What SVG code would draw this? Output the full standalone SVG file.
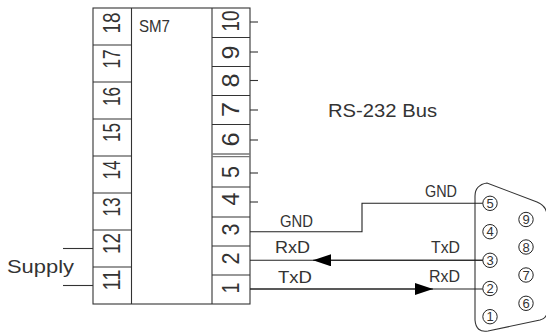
<svg xmlns="http://www.w3.org/2000/svg" width="546" height="333" viewBox="0 0 546 333">
<style>
.ln{stroke:#333;stroke-width:1.1;fill:none}
.wire{stroke:#222;stroke-width:1.1;fill:none}
.pin{font-family:"Liberation Sans",Arial,sans-serif;font-size:23px;fill:#333;text-anchor:middle}
.lbl{font-family:"Liberation Sans",Arial,sans-serif;font-size:17px;fill:#333}
.big{font-family:"Liberation Sans",Arial,sans-serif;font-size:18.5px;fill:#333}
.cn{font-family:"Liberation Sans",Arial,sans-serif;font-size:13px;fill:#333;text-anchor:middle}
.circ{stroke:#222;stroke-width:1;fill:#fff}
</style>
<defs>
<marker id="ah" viewBox="0 0 18 12" refX="18" refY="6" markerWidth="18" markerHeight="12" markerUnits="userSpaceOnUse" orient="auto">
<path d="M0,0 L18,6 L0,12 Z" fill="#000"/>
</marker>
</defs>
<rect width="546" height="333" fill="#fff"/>

<g id="sm7">
<rect x="93" y="8" width="157" height="296" class="ln"/>
<line x1="131.5" y1="8" x2="131.5" y2="304" class="ln"/>
<line x1="212" y1="8" x2="212" y2="304" class="ln"/>
<g class="ln">
<line x1="93" y1="45" x2="131.5" y2="45"/>
<line x1="93" y1="82" x2="131.5" y2="82"/>
<line x1="93" y1="119" x2="131.5" y2="119"/>
<line x1="93" y1="156" x2="131.5" y2="156"/>
<line x1="93" y1="193" x2="131.5" y2="193"/>
<line x1="93" y1="230" x2="131.5" y2="230"/>
<line x1="93" y1="267" x2="131.5" y2="267"/>
<line x1="212" y1="37.5" x2="250" y2="37.5"/>
<line x1="212" y1="66.5" x2="250" y2="66.5"/>
<line x1="212" y1="95.5" x2="250" y2="95.5"/>
<line x1="212" y1="124.5" x2="250" y2="124.5"/>
<line x1="212" y1="187" x2="250" y2="187"/>
<line x1="212" y1="217" x2="250" y2="217"/>
<line x1="212" y1="246" x2="250" y2="246"/>
<line x1="212" y1="275" x2="250" y2="275"/>
<line x1="250" y1="22" x2="258" y2="22"/>
<line x1="250" y1="52" x2="258" y2="52"/>
<line x1="250" y1="80.5" x2="258" y2="80.5"/>
<line x1="250" y1="110" x2="258" y2="110"/>
<line x1="250" y1="140" x2="258" y2="140"/>
<line x1="250" y1="173" x2="258" y2="173"/>
<line x1="250" y1="202" x2="258" y2="202"/>
<line x1="63" y1="248.5" x2="93" y2="248.5"/>
<line x1="63" y1="285.5" x2="93" y2="285.5"/>
</g>
<line x1="212" y1="154" x2="250" y2="154" stroke="#777" stroke-width="1.4"/>
<line x1="212" y1="156.6" x2="250" y2="156.6" stroke="#777" stroke-width="1.4"/>
<text class="lbl" x="139" y="32" font-size="18" textLength="31" lengthAdjust="spacingAndGlyphs">SM7</text>
<g class="pin">
<text transform="translate(120,23) rotate(-90)" textLength="21" lengthAdjust="spacingAndGlyphs">18</text>
<text transform="translate(120,59) rotate(-90)" textLength="19" lengthAdjust="spacingAndGlyphs">17</text>
<text transform="translate(120,96.5) rotate(-90)" textLength="19" lengthAdjust="spacingAndGlyphs">16</text>
<text transform="translate(120,132.5) rotate(-90)" textLength="19" lengthAdjust="spacingAndGlyphs">15</text>
<text transform="translate(120,170) rotate(-90)" textLength="19" lengthAdjust="spacingAndGlyphs">14</text>
<text transform="translate(120,207) rotate(-90)" textLength="19" lengthAdjust="spacingAndGlyphs">13</text>
<text transform="translate(120,243.5) rotate(-90)" textLength="21" lengthAdjust="spacingAndGlyphs">12</text>
<text transform="translate(120,280) rotate(-90)" textLength="21" lengthAdjust="spacingAndGlyphs">11</text>
<text transform="translate(239,21) rotate(-90)" textLength="21" lengthAdjust="spacingAndGlyphs">10</text>
<text transform="translate(239,52.5) rotate(-90)" textLength="14" lengthAdjust="spacingAndGlyphs">9</text>
<text transform="translate(239,80.5) rotate(-90)" textLength="14" lengthAdjust="spacingAndGlyphs">8</text>
<text transform="translate(239,109.5) rotate(-90)" textLength="15" lengthAdjust="spacingAndGlyphs">7</text>
<text transform="translate(239,139.5) rotate(-90)" textLength="14" lengthAdjust="spacingAndGlyphs">6</text>
<text transform="translate(239,172) rotate(-90)" textLength="12" lengthAdjust="spacingAndGlyphs">5</text>
<text transform="translate(239,199) rotate(-90)" textLength="13" lengthAdjust="spacingAndGlyphs">4</text>
<text transform="translate(239,229.5) rotate(-90)" textLength="12" lengthAdjust="spacingAndGlyphs">3</text>
<text transform="translate(239,258.5) rotate(-90)" textLength="12" lengthAdjust="spacingAndGlyphs">2</text>
<text transform="translate(239,288) rotate(-90)" textLength="11" lengthAdjust="spacingAndGlyphs">1</text>
</g>
<text class="big" x="7" y="272.5" font-size="18" textLength="67" lengthAdjust="spacingAndGlyphs">Supply</text>
</g>

<g id="db9">
<path d="M475,196 Q475,185 487,183 L537,202 Q547,206 547,216 L547,312 Q547,318 540,320 L488,331 Q476,333 475,320 Z" class="ln"/>
<circle cx="490" cy="203.3" r="7.2" class="circ"/>
<circle cx="490" cy="231.7" r="7.2" class="circ"/>
<circle cx="490" cy="260.3" r="7.2" class="circ"/>
<circle cx="490" cy="288.5" r="7.2" class="circ"/>
<circle cx="490" cy="316.7" r="7.2" class="circ"/>
<circle cx="526" cy="219.5" r="7.2" class="circ"/>
<circle cx="526" cy="247" r="7.2" class="circ"/>
<circle cx="526" cy="275" r="7.2" class="circ"/>
<circle cx="526" cy="303.3" r="7.2" class="circ"/>
<text class="cn" x="490" y="208">5</text>
<text class="cn" x="490" y="236.4">4</text>
<text class="cn" x="490" y="265">3</text>
<text class="cn" x="490" y="293.2">2</text>
<text class="cn" x="490" y="321.4">1</text>
<text class="cn" x="526" y="224.2">9</text>
<text class="cn" x="526" y="251.7">8</text>
<text class="cn" x="526" y="279.7">7</text>
<text class="cn" x="526" y="308">6</text>
</g>

<g id="connectors">
<path d="M250,231.7 H362 V203.3 H482.8" class="wire"/>
<line x1="482.8" y1="260.3" x2="250" y2="260.3" class="wire"/>
<line x1="482.8" y1="260.3" x2="313" y2="260.3" class="wire" marker-end="url(#ah)"/>
<line x1="250" y1="289" x2="482.8" y2="289" class="wire"/>
<line x1="250" y1="289" x2="433" y2="289" class="wire" marker-end="url(#ah)"/>
</g>

<g id="labels">
<text class="lbl" x="280" y="226.5" textLength="33" lengthAdjust="spacingAndGlyphs">GND</text>
<text class="lbl" x="275" y="253" textLength="35" lengthAdjust="spacingAndGlyphs">RxD</text>
<text class="lbl" x="278" y="283" textLength="34" lengthAdjust="spacingAndGlyphs">TxD</text>
<text class="lbl" x="425" y="197" font-size="16" textLength="32" lengthAdjust="spacingAndGlyphs">GND</text>
<text class="lbl" x="431" y="253" font-size="16" textLength="29" lengthAdjust="spacingAndGlyphs">TxD</text>
<text class="lbl" x="429" y="282" font-size="16" textLength="31" lengthAdjust="spacingAndGlyphs">RxD</text>
<text class="big" x="328" y="116.7" textLength="109" lengthAdjust="spacingAndGlyphs">RS-232 Bus</text>
</g>
</svg>
